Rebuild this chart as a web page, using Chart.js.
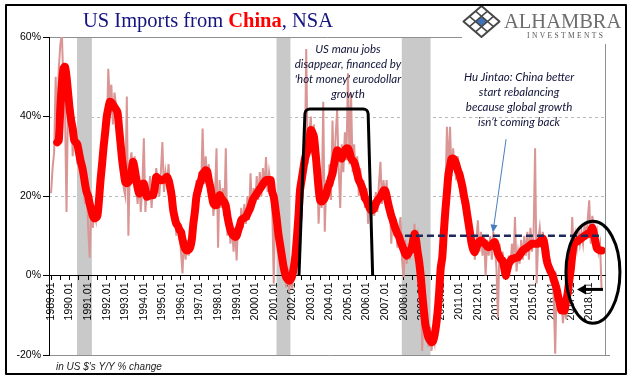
<!DOCTYPE html>
<html><head><meta charset="utf-8">
<script src="https://cdn.jsdelivr.net/npm/chart.js@4.4.1/dist/chart.umd.min.js"></script>
<style>html,body{margin:0;padding:0;background:#fff;overflow:hidden}canvas{display:block}</style>
</head><body>
<canvas id="c" width="641" height="381"></canvas>
<script>
// ---- DATA (monthly, first value = 1989.01) ----
const firstYear = 1989;
// thick red line (smoothed Y/Y %)
const smoothedSeries = [
null,null,null,null,33.5,34,42,48,52,52.5,50,46,
42,39,37,34,33.5,33,31,29,27.5,25.5,23,21,
20,18,16.5,15,14.4,14.5,15.1,19,24,28,32.4,36,
39.9,42,43.7,43.5,43,42.4,41.8,41,37,33,29,26,
23.5,23.2,23.5,24,26,28.6,27,24.5,22,20.6,21,23,
23.1,21.5,19.8,20,20.2,20.2,20.2,22,24.8,24.5,24.2,24,
24,24.2,24.5,24.8,24,22.3,20,16.4,14.5,13,12.5,11.5,
11,9,7.5,6.5,6.3,6.5,7.1,9,13,16,19.8,21.5,
23,24,25.6,26,26.5,26.2,24,22.3,20,18.1,17.7,17.7,
19,20.2,19.5,19,18.5,17.5,15,13,11.5,10.5,10,9.7,
10,11.3,12.5,13.9,14.3,14.5,14.7,15.5,16.3,17.2,18.5,19.5,
20,20.6,21.2,21.8,22.3,23,23.5,24,24,24,24,21,
19.8,17,13.9,10.5,8,5.5,3,1,-0.4,-1,-1.3,-1,
0,2.1,5,9.7,15,21.4,24,26.5,29,30.5,31.5,34,
36.6,36,34.9,31,26.5,22,18.9,18.6,18.9,19.5,20.5,22.3,
23,24.5,25.6,28,30,31.5,31,30,29.4,30.5,31.5,32,
32,31,29.5,29,28.5,27.3,25.5,24,23.2,22.3,21,19.5,
18.9,18,17,16.4,16.5,17,18.1,18.8,19.3,19.8,20.6,21.4,
21.4,20,18.1,16.5,15,13.9,12.5,11.5,10.5,9.8,8.5,7.5,
6.5,5.5,5,5.5,6.3,6.5,8.5,10.5,9,6,3.5,0,
-4.6,-8.5,-12.2,-14,-15.6,-16.3,-16.8,-16.5,-15,-12.5,-9,-4,
2,4.6,11,16.4,21,25.6,27.5,29.4,29.4,29,28,26.5,
25.6,24,22.3,20,18.1,15.5,13,10.5,8,6.5,5.9,7,
8,8.6,8.8,8.5,8.2,7.8,7.3,7.1,7.3,7.8,8.2,8.4,
7,5.5,4.8,4,3.8,2,0,1.5,3,3.6,4.2,4.2,
4.4,4.5,4.6,5.2,5.7,6.3,6.6,6.8,7.1,7.4,7.7,8,
8,8,8,8,8.5,9,9.3,8,5,3,2,1,
0.4,-1,-2.1,-3.5,-5.5,-7,-8.8,-8.8,-8.8,-6.5,-4.6,-1.5,
1.3,5,8,8.3,8.5,8.8,9.1,9.4,9.7,10,10.2,10.5,
10.5,11.2,12,10.5,8.5,6.8,6.5,6.3,6.3
];
// thin pink line (monthly Y/Y %)
const monthlySeries = [
20.7,27,31,50,36,52,58,61,48,42,16,44,
40,45,30,38,36,28,34,26,31,22,18,24,
12,4.5,18,12,16,14,22,18,29,26,36,40,
34,52,44,48,38,46,43,40,34,31,26,22,
20,45,10,28,31,24,30,22,18,25,16,22,
34.5,16,22,19,25,17,23,21,27,24,20,26,
33.6,21,26,23,28,20,24,13,19,10,14,12,
6,0.5,10,4,9,5,11,8,16,14,24,18,
26,21,37,23,30,24,28,19,22,15,20,32,
7,24,17,22,15,32,10,14,8,13,6,12,
3.8,14,10,17,12,18,13,20,14,25.7,16,22,
18,25,19,26,20,27,22,29.8,21,26,23,18,
-2,20,10,14,4,9,2,5,-3,2,-4,1,
-3.3,5,2,14,11,25,19,30,24,57,28,36,
40,30,38,25,30,13,22,17,43.7,11,24,20,
28,19,39,24,35,41.6,27,17,33,26,36,29,
50.9,28,45.8,26,33,24,30,20,27,19,24,17,
22,13,20,14,19,15,21,16,23,28.6,18,24,
19,24,15,20,8,16,10,14,7,12,14.7,4,
-0.4,9,3,8,4,10,6,13,8,10,0,3,
-19,-6,-14,-10,-18,-13,-19,-15,-17,-10,-12,0,
8,-2,14,20,37.4,26,37.4,25,32,27,24,30,
22,27,18,23,15,19,10,14,6,10,4,9,
13.9,6,11,5,10,0,9,5,10,4,11,7,
2,-10.5,8,2,6,-1,3,-1,5,2,8,3,
14.7,1,6,3,9,4,10,5,11,4,12,6,
10,32,-2,9,12,7,11,6,9,3,5,1,
1,-5,-19.7,-1,-3,-9,-6,-12,-7,-11,-2,-6,
3,14.7,5,10,7,12,8,11,8,13,9,14,
18.9,8,15,12,9,11,6,8,-3.8
];
// recession shading (decimal years)
const recessionStart = [1990.4, 2001.15, 2007.9];
const recessionEnd   = [1991.2, 2001.9, 2009.45];
// axis ticks
const yTickValues = [-20, 0, 20, 40, 60];
const xTickYears = [];
for (let yr = 1989; yr <= 2018; yr++) xTickYears.push(yr);
const xTickLabels = xTickYears.map(yr => yr + '.01');
const halfYearTicks = [];
for (let t = 1989; t <= 2018.5; t += 0.5) halfYearTicks.push(t);
// annotation reference level
const rebalanceLevel = 10;

// ---- build points ----
const toPts = arr => arr.map((v, i) => ({x: firstYear + i / 12, y: v}));

Chart.defaults.font.family = '"Liberation Sans", Arial, sans-serif';

const deco = {
  id: 'deco',
  beforeDraw(chart) {
    const {ctx, chartArea: a} = chart;
    const xs = chart.scales.x, ys = chart.scales.y;
    ctx.save();
    ctx.fillStyle = '#fff';
    ctx.fillRect(0, 0, chart.width, chart.height);
    ctx.strokeStyle = '#b9b9b9'; ctx.lineWidth = 1; ctx.setLineDash([3, 3]);
    [20, 40].forEach(v => {
      const py = Math.round(ys.getPixelForValue(v)) + 0.5;
      ctx.beginPath(); ctx.moveTo(a.left, py); ctx.lineTo(a.right, py); ctx.stroke();
    });
    ctx.setLineDash([]);
    ctx.fillStyle = '#c9c9c9';
    recessionStart.forEach((s, i) => {
      const x0 = xs.getPixelForValue(s), x1 = xs.getPixelForValue(recessionEnd[i]);
      ctx.fillRect(x0, a.top + 1, x1 - x0, a.bottom - a.top - 1);
    });
    ctx.strokeStyle = '#8f8f8f'; ctx.lineWidth = 1;
    const top = Math.round(ys.getPixelForValue(60)) + 0.5;
    const bot = Math.round(ys.getPixelForValue(-20)) + 0.5;
    ctx.beginPath();
    ctx.moveTo(a.left, top); ctx.lineTo(Math.round(a.right) + 0.5, top);
    ctx.lineTo(Math.round(a.right) + 0.5, bot);
    ctx.moveTo(a.left, bot); ctx.lineTo(a.right + 5, bot);
    ctx.stroke();
    ctx.restore();
  },
  afterDraw(chart) {
    const {ctx} = chart;
    const xs = chart.scales.x, ys = chart.scales.y;
    const X = t => xs.getPixelForValue(t), Y = v => ys.getPixelForValue(v);
    ctx.save();

    ctx.strokeStyle = '#1f2a5a'; ctx.lineWidth = 2.5; ctx.setLineDash([7, 4]);
    ctx.beginPath(); ctx.moveTo(X(2008.07), Y(rebalanceLevel)); ctx.lineTo(X(2018.69), Y(rebalanceLevel)); ctx.stroke();
    ctx.setLineDash([]);

    ctx.strokeStyle = '#000'; ctx.lineWidth = 3; ctx.lineJoin = 'round'; ctx.lineCap = 'butt';
    ctx.beginPath();
    ctx.moveTo(X(2002.36), Y(0));
    ctx.arcTo(X(2002.69), Y(41.9), X(2006.08), Y(41.9), 5);
    ctx.arcTo(X(2006.08), Y(41.9), X(2006.33), Y(0), 5);
    ctx.lineTo(X(2006.33), Y(0));
    ctx.stroke();

    ctx.beginPath();
    ctx.ellipse(X(2018.2), Y(0.8), 27, 51, 0, 0, Math.PI * 2);
    ctx.stroke();

    const ay = Y(-3.5), tipX = X(2017.34), tailX = X(2018.74);
    ctx.beginPath(); ctx.moveTo(tailX, ay); ctx.lineTo(tipX + 7, ay); ctx.stroke();
    ctx.fillStyle = '#000';
    ctx.beginPath(); ctx.moveTo(tipX, ay); ctx.lineTo(tipX + 9, ay - 5); ctx.lineTo(tipX + 9, ay + 5); ctx.closePath(); ctx.fill();

    const bx0 = X(2013.52), by0 = Y(34.3), bx1 = X(2012.81), by1 = Y(10.8);
    ctx.strokeStyle = '#4a7ebb'; ctx.fillStyle = '#4a7ebb'; ctx.lineWidth = 1;
    const ang = Math.atan2(by1 - by0, bx1 - bx0);
    ctx.beginPath(); ctx.moveTo(bx0, by0); ctx.lineTo(bx1 - 6 * Math.cos(ang), by1 - 6 * Math.sin(ang)); ctx.stroke();
    ctx.beginPath();
    ctx.moveTo(bx1, by1);
    ctx.lineTo(bx1 - 8 * Math.cos(ang) + 3.5 * Math.sin(ang), by1 - 8 * Math.sin(ang) - 3.5 * Math.cos(ang));
    ctx.lineTo(bx1 - 8 * Math.cos(ang) - 3.5 * Math.sin(ang), by1 - 8 * Math.sin(ang) + 3.5 * Math.cos(ang));
    ctx.closePath(); ctx.fill();

    ctx.fillStyle = '#111338';
    ctx.font = 'italic 11.5px Lato, "Open Sans", sans-serif';
    ctx.textAlign = 'center'; ctx.textBaseline = 'middle';
    const note1 = ['US manu jobs', 'disappear, financed by', "'hot money' eurodollar", 'growth'];
    note1.forEach((s, i) => ctx.fillText(s, X(2005.0), 49.5 + i * 14.8));
    const note2 = ['Hu Jintao: China better', 'start rebalancing', 'because global growth', 'isn\u2019t coming back'];
    note2.forEach((s, i) => ctx.fillText(s, X(2014.22), 77.5 + i * 15));

    ctx.textAlign = 'left'; ctx.textBaseline = 'alphabetic';
    ctx.fillStyle = '#1a1a1a';
    ctx.font = 'italic 10px "Liberation Sans", sans-serif';
    ctx.fillText("in US $'s Y/Y % change", 56, 369.5);

    const tY = 27; let tx = 83;
    const parts = [
      {t: 'US Imports from ', f: '20.5px "Liberation Serif", serif', c: '#14147f'},
      {t: 'China', f: 'bold 20.5px "Liberation Serif", serif', c: '#ff0000'},
      {t: ', NSA', f: '20.5px "Liberation Serif", serif', c: '#14147f'}
    ];
    parts.forEach(p => { ctx.font = p.f; ctx.fillStyle = p.c; ctx.fillText(p.t, tx, tY); tx += ctx.measureText(p.t).width; });

    ctx.fillStyle = '#fff';
    ctx.fillRect(462, 7, 162, 37);
    const cx = 481.5, cy = 21.5, hw = 18, hh = 15.5;
    const P = (u, v) => [cx + (u - v) * hw, cy - hh + (u + v) * hh];
    ctx.fillStyle = '#3f72b8';
    ctx.beginPath();
    [[1/3,1/3],[2/3,1/3],[2/3,2/3],[1/3,2/3]].forEach((q, i) => { const p = P(q[0], q[1]); i ? ctx.lineTo(p[0], p[1]) : ctx.moveTo(p[0], p[1]); });
    ctx.closePath(); ctx.fill();
    ctx.strokeStyle = '#484848'; ctx.lineWidth = 2;
    ctx.beginPath();
    [[0,0],[1,0],[1,1],[0,1]].forEach((q, i) => { const p = P(q[0], q[1]); i ? ctx.lineTo(p[0], p[1]) : ctx.moveTo(p[0], p[1]); });
    ctx.closePath(); ctx.stroke();
    ctx.lineWidth = 1.5;
    [1/3, 2/3].forEach(k => {
      let p0 = P(k, 0), p1 = P(k, 1);
      ctx.beginPath(); ctx.moveTo(p0[0], p0[1]); ctx.lineTo(p1[0], p1[1]); ctx.stroke();
      p0 = P(0, k); p1 = P(1, k);
      ctx.beginPath(); ctx.moveTo(p0[0], p0[1]); ctx.lineTo(p1[0], p1[1]); ctx.stroke();
    });
    ctx.fillStyle = '#6e6e6e';
    ctx.font = '20.5px "Liberation Serif", serif';
    ctx.textAlign = 'left';
    ctx.fillText('ALHAMBRA', 504, 28);
    ctx.fillStyle = '#555';
    ctx.font = '7.5px "Liberation Serif", serif';
    const inv = 'INVESTMENTS';
    const w0 = ctx.measureText(inv).width;
    const gap = (76 - w0) / (inv.length - 1);
    let ix = 527;
    for (const ch of inv) { ctx.fillText(ch, ix, 38); ix += ctx.measureText(ch).width + gap; }

    ctx.strokeStyle = '#000'; ctx.lineWidth = 2;
    ctx.strokeRect(6, 5, 620, 369);
    ctx.restore();
  }
};

new Chart(document.getElementById('c'), {
  type: 'line',
  data: {
    datasets: [
      {label: 'smoothed', data: toPts(smoothedSeries), borderColor: '#ff0000', borderWidth: 8,
       pointRadius: 0, borderCapStyle: 'round', borderJoinStyle: 'round', tension: 0.25, spanGaps: false, order: 0},
      {label: 'monthly', data: toPts(monthlySeries), borderColor: '#d99694', borderWidth: 2,
       pointRadius: 0, tension: 0, order: 1}
    ]
  },
  options: {
    responsive: false, animation: false, devicePixelRatio: 1,
    layout: {padding: {left: 0, top: 37, right: 36, bottom: 26}},
    plugins: {legend: {display: false}, title: {display: false}, tooltip: {enabled: false}},
    scales: {
      x: {
        type: 'linear', min: 1988.89, max: 2018.85, position: {y: 0},
        afterBuildTicks: s => { s.ticks = halfYearTicks.map(v => ({value: v})); },
        grid: {drawOnChartArea: false, drawTicks: true, tickLength: 4, tickColor: '#000', tickWidth: 1},
        border: {display: true, color: '#000', width: 1},
        ticks: {autoSkip: false, minRotation: 90, maxRotation: 90, padding: 3, color: '#000',
                font: {size: 10.5},
                callback: v => { const i = xTickYears.indexOf(v); return i >= 0 ? xTickLabels[i] : ''; }}
      },
      y: {
        min: -20, max: 60,
        afterBuildTicks: s => { s.ticks = yTickValues.map(v => ({value: v})); },
        afterFit: s => { s.width = 49; },
        grid: {drawOnChartArea: false, drawTicks: true, tickLength: 6, tickColor: '#000'},
        border: {display: true, color: '#000', width: 1},
        ticks: {padding: 2, color: '#000', font: {size: 10.5}, callback: v => v + '%'}
      }
    }
  },
  plugins: [deco]
});
</script>
</body></html>
